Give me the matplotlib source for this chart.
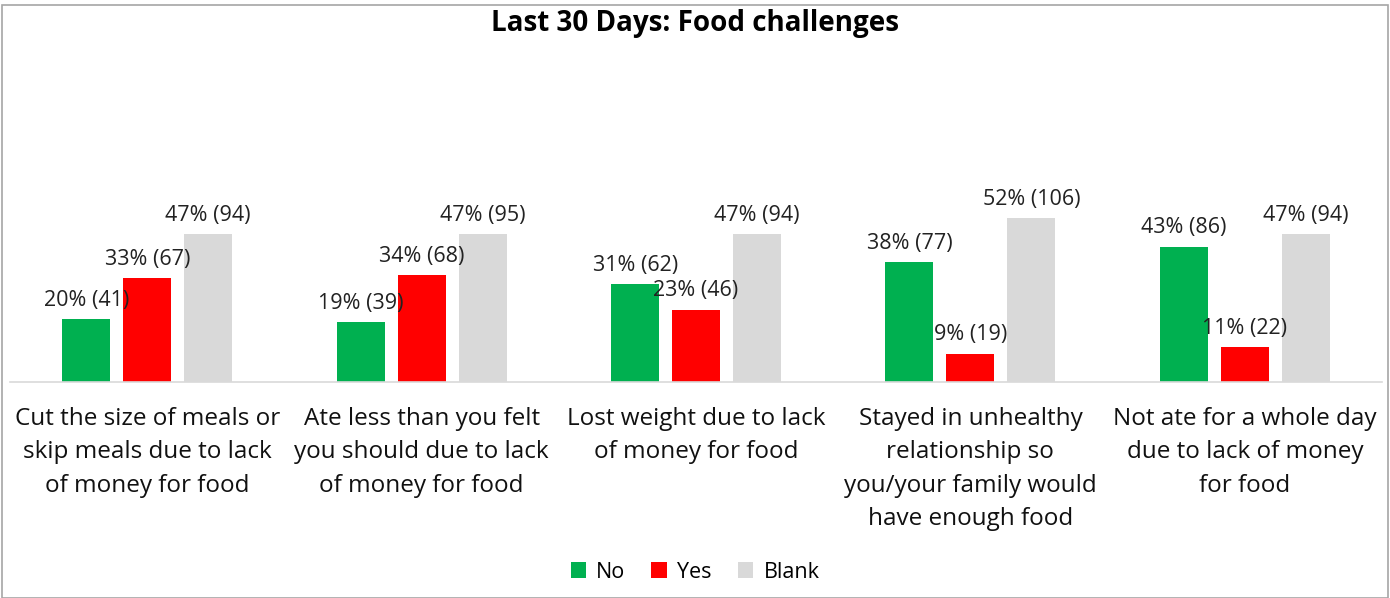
import matplotlib.pyplot as plt
from matplotlib.patches import Rectangle
import numpy as np

plt.rcParams['font.family'] = ['Open Sans', 'DejaVu Sans']

categories = [
    "Cut the size of meals or\nskip meals due to lack\nof money for food",
    "Ate less than you felt\nyou should due to lack\nof money for food",
    "Lost weight due to lack\nof money for food",
    "Stayed in unhealthy\nrelationship so\nyou/your family would\nhave enough food",
    "Not ate for a whole day\ndue to lack of money\nfor food",
]
series_names = ["No", "Yes", "Blank"]
no_pct = [20, 19, 31, 38, 43]
no_cnt = [41, 39, 62, 77, 86]
yes_pct = [33, 34, 23, 9, 11]
yes_cnt = [67, 68, 46, 19, 22]
blank_pct = [47, 47, 47, 52, 47]
blank_cnt = [94, 95, 94, 106, 94]

colors = ["#00B050", "#FF0000", "#D9D9D9"]

fig = plt.figure(figsize=(13.9, 5.98), dpi=100)
ax = fig.add_axes([10 / 1390, (598 - 382) / 598, 1372 / 1390, 315 / 598])

x = np.arange(len(categories))
w = 0.175
off = 0.222
pcts = [no_pct, yes_pct, blank_pct]
cnts = [no_cnt, yes_cnt, blank_cnt]
for i, (name, p, c) in enumerate(zip(series_names, pcts, cnts)):
    pos = x + (i - 1) * off
    bars = ax.bar(pos, p, width=w, color=colors[i], label=name, zorder=2)
    for b, pv, cv in zip(bars, p, c):
        ax.annotate(f"{pv}% ({cv})", (b.get_x() + b.get_width() / 2, pv),
                    xytext=(0, 6), textcoords="offset points",
                    ha="center", va="bottom", fontsize=15.5, color="#222222")

ax.set_xlim(-0.5, len(categories) - 0.5)
ax.set_ylim(0, 100)
ax.set_yticks([])
ax.set_xticks(x)
ax.set_xticklabels(categories, fontsize=17.5, color="#111111", linespacing=1.52)
ax.tick_params(axis="x", length=0, pad=18)
for s in ["top", "right", "left"]:
    ax.spines[s].set_visible(False)
ax.spines["bottom"].set_color("#D9D9D9")
ax.spines["bottom"].set_linewidth(1.2)

fig.text(0.5, (598 - 24) / 598, "Last 30 Days: Food challenges", ha="center", va="center",
         fontsize=20, fontweight="bold", color="#000000")

fig.legend(loc="center", bbox_to_anchor=(0.5, (598 - 572) / 598), ncol=3, frameon=False,
           fontsize=15.5, handlelength=0.7, handleheight=0.7, handletextpad=0.5,
           columnspacing=1.2)

fig.patches.append(Rectangle((2 / 1390, 0), 1386 / 1390, 593 / 598, transform=fig.transFigure,
                             fill=False, edgecolor="#A6A6A6", linewidth=1.2))

fig.savefig("out.png", dpi=100)
